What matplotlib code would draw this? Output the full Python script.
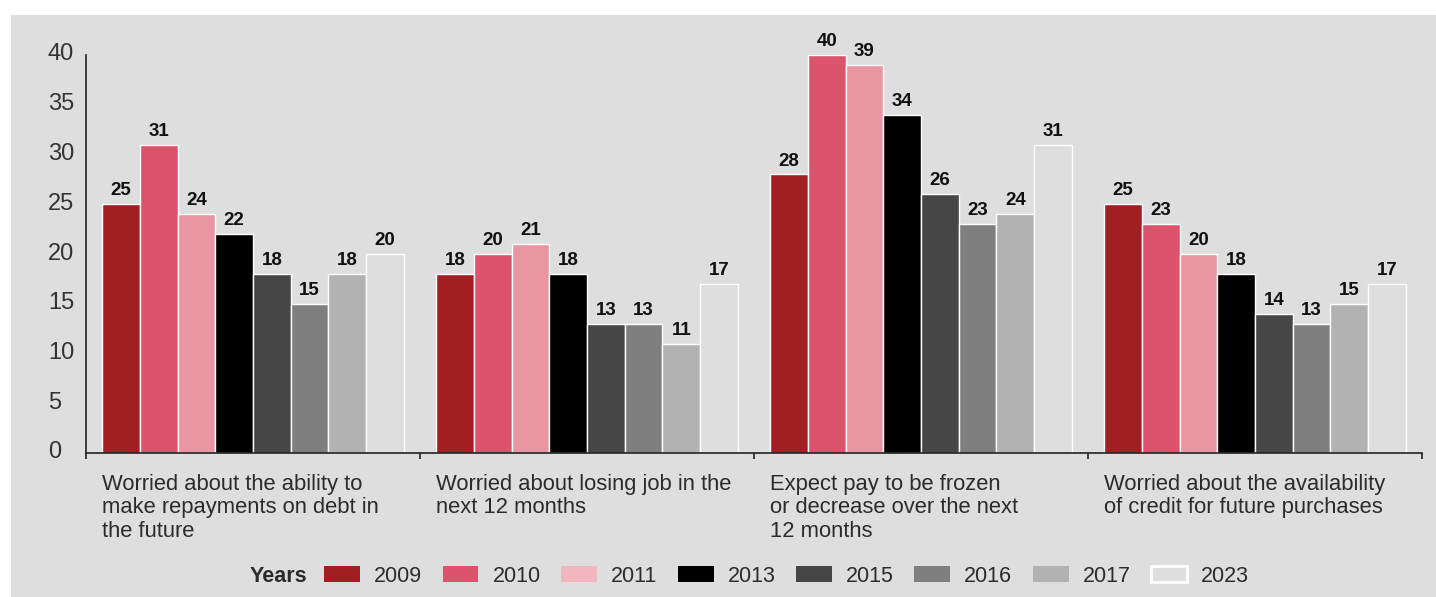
import numpy as np
import matplotlib
matplotlib.use("Agg")
import matplotlib.pyplot as plt
from matplotlib.patches import Patch, Rectangle
from matplotlib.transforms import ScaledTranslation

plt.rcParams['font.family'] = ['Liberation Sans', 'DejaVu Sans']

categories = [
    "Worried about the ability to\nmake repayments on debt in\nthe future",
    "Worried about losing job in the\nnext 12 months",
    "Expect pay to be frozen\nor decrease over the next\n12 months",
    "Worried about the availability\nof credit for future purchases",
]
years = ["2009", "2010", "2011", "2013", "2015", "2016", "2017", "2023"]

v2009 = [25, 18, 28, 25]
v2010 = [31, 20, 40, 23]
v2011 = [24, 21, 39, 20]
v2013 = [22, 18, 34, 18]
v2015 = [18, 13, 26, 14]
v2016 = [15, 13, 23, 13]
v2017 = [18, 11, 24, 15]
v2023 = [20, 17, 31, 17]
series = [v2009, v2010, v2011, v2013, v2015, v2016, v2017, v2023]

bg = "#dedede"
bar_colors = ["#a11f22", "#dc546b", "#e996a2", "#000000",
              "#464646", "#7f7f7f", "#b2b2b2", bg]
legend_colors = ["#a11f22", "#dc546b", "#f2b6be", "#000000",
                 "#464646", "#7f7f7f", "#b2b2b2", bg]
text_col = "#2b2b2b"

fig = plt.figure(figsize=(14.36, 5.97), dpi=100)
fig.patch.set_facecolor("white")
# grey panel behind everything
fig.patches.append(Rectangle((11 / 1436, 0), 1, (597 - 15) / 597,
                             transform=fig.transFigure, facecolor=bg,
                             edgecolor="none", zorder=-10))

ax = fig.add_axes([86 / 1436, 144 / 597, (1422 - 86) / 1436, (542 - 144) / 597])
ax.set_facecolor("none")

x = np.arange(len(categories))
width = 0.113
n = len(years)
for i, (vals, c) in enumerate(zip(series, bar_colors)):
    offs = (i - (n - 1) / 2) * width
    bars = ax.bar(x + offs, vals, width, color=c, edgecolor="white",
                  linewidth=1.0, zorder=3)
    ax.bar_label(bars, padding=3.5, fontsize=13.5, fontweight="bold", color="#111111")

ax.set_ylim(0, 40)
ax.set_xlim(-0.5, len(categories) - 0.5)
ax.set_yticks(range(0, 41, 5))
ax.tick_params(axis="y", length=0, pad=27.5, labelsize=17, labelcolor="#333333")
up = ScaledTranslation(0, 3 / 100, fig.dpi_scale_trans)
for lab in ax.get_yticklabels():
    lab.set_horizontalalignment("left")
    lab.set_transform(lab.get_transform() + up)
ax.set_xticks(np.arange(-0.5, len(categories), 1.0))
ax.set_xticklabels([])
ax.tick_params(axis="x", length=4.5, width=1.2, color="#222222", direction="out")

for s in ["top", "right"]:
    ax.spines[s].set_visible(False)
for s in ["left", "bottom"]:
    ax.spines[s].set_color("#222222")
    ax.spines[s].set_linewidth(1.2)
    ax.spines[s].set_zorder(5)

# category captions under each group, left aligned with first bar
trans = ax.get_xaxis_transform() + ScaledTranslation(0, -15 / 72, fig.dpi_scale_trans)
for xi, cat in zip(x, categories):
    ax.text(xi - 4 * width, 0, cat, transform=trans, ha="left", va="top",
            fontsize=15.8, color=text_col, linespacing=1.15)

# legend row
fig.text(250 / 1436, 21 / 597, "Years", fontsize=15.5, fontweight="bold",
         color=text_col, ha="left", va="center")
handles = []
for y, c in zip(years, legend_colors):
    if y == "2023":
        handles.append(Patch(facecolor=c, edgecolor="white", linewidth=2, label=y))
    else:
        handles.append(Patch(facecolor=c, edgecolor="none", label=y))
fig.legend(handles=handles, loc="center left", bbox_to_anchor=(324 / 1436, 21 / 597),
           ncol=len(years), frameon=False, fontsize=15.5, borderpad=0, borderaxespad=0,
           handlelength=1.67, handleheight=0.79, handletextpad=0.65, columnspacing=0.95,
           labelcolor=text_col)

fig.savefig("out.png", dpi=100)
